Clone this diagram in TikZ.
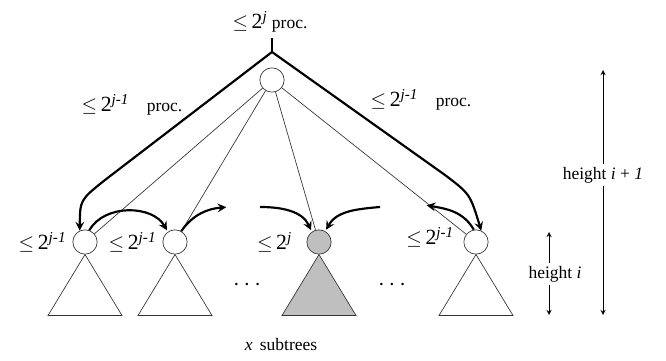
\documentclass[tikz,border=0pt]{standalone}
\usepackage{fontspec}
\setmainfont{Liberation Serif}
\usetikzlibrary{positioning}
\newcommand{\lepow}[1]{{\fontsize{13}{15}\selectfont$\leq$\,2\textsuperscript{\textit{#1}}}}
\begin{document}
\begin{tikzpicture}[line width=1.3pt,>=stealth,x=0.6pt,y=-0.6pt,
	vert/.style={circle,draw=black!80,thin,inner sep=0pt,minimum size=14.6pt},
	tri/.style={draw=black!80,thin},
	curv/.style={line width=1.3pt,->,shorten >=1pt},
	lab/.style={font=\fontsize{10.5}{12}\selectfont,inner sep=1pt}]
	\useasboundingbox (0,0) rectangle (666,361);
	% top of the tree
	\node[lab] (toplab) at (270,22) {\lepow{j} proc.};
	\coordinate (stem) at (272,38);
	\coordinate (top) at (272,52);
	\node[vert] (root) at (272,80) {};
	% subtrees
	\node[vert] (s1) at (85,242) {};
	\node[vert] (s2) at (175,242) {};
	\node[vert,fill=gray!50] (s3) at (319,242) {};
	\node[vert] (s5) at (476,242) {};
	\draw[tri] (s1.south) -- ++(-37,61) -- ++(74,0) -- cycle;
	\draw[tri] (s2.south) -- ++(-37,61) -- ++(74,0) -- cycle;
	\draw[tri,fill=gray!50] (s3.south) -- ++(-37,61) -- ++(74,0) -- cycle;
	\draw[tri] (s5.south) -- ++(-37,61) -- ++(74,0) -- cycle;
	\node[lab] (dots1) at (247,285) {\Large$\cdots$};
	\node[lab] (dots2) at (392,285) {\Large$\cdots$};
	% thin edges
	\foreach \s in {s1,s2,s3,s5} \draw[thin,black!80] (root) -- (\s);
	% thick paths
	\draw (stem) -- (top);
	\draw[->] (top) -- (105,180) .. controls (80,200) .. (s1.115);
	\draw[->] (top) -- (445,175) .. controls (470,194) .. (s5.65);
	% labels
	\node[lab] (procl) at (132,105) {\lepow{j-1}\quad proc.};
	\node[lab] (procr) at (421,100) {\lepow{j-1}\quad proc.};
	\node[lab,left=2pt of s1] (l1) {\lepow{j-1}};
	\node[lab,left=2pt of s2] (l2) {\lepow{j-1}};
	\node[lab,left=7pt of s3] (l3) {\lepow{j}};
	\node[lab,left=4pt of s5,yshift=3pt] (l5) {\lepow{j-1}};
	% moves between subtrees
	\coordinate (m2) at (228,207);
	\coordinate (m3) at (260,207);
	\coordinate (m4) at (380,207);
	\coordinate (m5) at (425,205);
	\draw[curv] (s1.70) to[out=60,in=120] (s2.125);
	\draw[curv] (s2.60) to[out=55,in=185] (m2);
	\draw[curv] (m3) to[out=0,in=115] (s3.125);
	\draw[curv] (m4) to[out=185,in=60] (s3.60);
	\draw[curv] (s5.100) to[out=120,in=-10] (m5);
	% heights
	\node[lab] (hbig) at (603,175) {height \textit{i} + \textit{1}};
	\coordinate (hbigt) at (603,70);
	\coordinate (hbigb) at (603,315);
	\draw[thin,->] (hbig.north) -- (hbigt);
	\draw[thin,->] (hbig.south) -- (hbigb);
	\node[lab] (hsmall) at (555,274) {height \textit{i}};
	\coordinate (hsmt) at (549,232);
	\coordinate (hsmb) at (549,315);
	\draw[thin,->] (hsmall.north -| hsmt) -- (hsmt);
	\draw[thin,->] (hsmall.south -| hsmt) -- (hsmb);
	\node[lab] (xsub) at (281,345) {\textit{x}\, subtrees};
\end{tikzpicture}
\end{document}
